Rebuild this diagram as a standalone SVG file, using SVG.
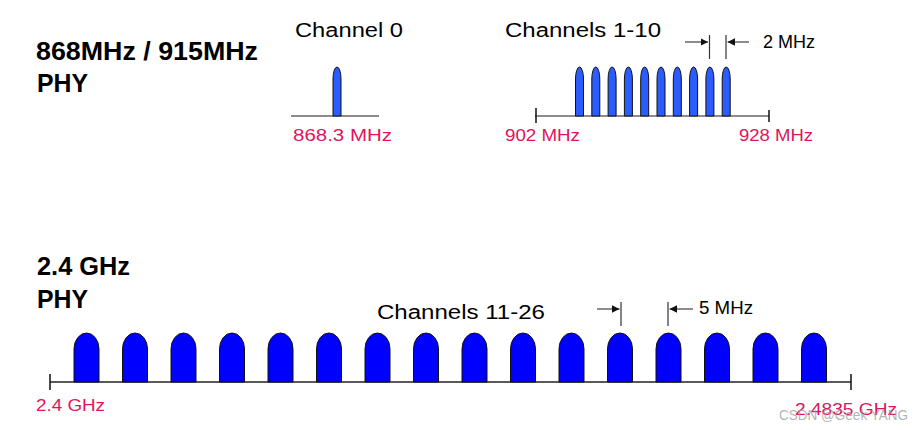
<svg xmlns="http://www.w3.org/2000/svg" width="923" height="430" viewBox="0 0 923 430">
<style>
.t{font-family:"Liberation Sans",Arial,sans-serif;fill:#000}
.h{font-weight:bold;font-size:25px}
.c{font-size:20px}
.s{font-size:18px}
.p{font-family:"Liberation Sans",Arial,sans-serif;font-size:17px;fill:#e0145c}
.ax{stroke:#222;stroke-width:1.5;fill:none}
.axg{stroke:#666;stroke-width:1.5;fill:none}
.tk{stroke:#111;stroke-width:1.5}
.ar{stroke:#666;stroke-width:1.5;fill:none;marker-end:url(#ah)}
.mk{stroke:#333;stroke-width:1.2}
.np{fill:#2b5cff;stroke:#111;stroke-width:1}
.wp{fill:#0000ff;stroke:#111;stroke-width:1}
</style>
<defs>
<marker id="ah" viewBox="0 0 10 10" refX="10" refY="5" markerWidth="5" markerHeight="5" orient="auto" markerUnits="strokeWidth">
<path d="M0,0 L10,5 L0,10 z" fill="#111"/>
</marker>
<path id="np" d="M-4,49 V12 A4,12 0 0 1 4,12 V49 Z"/>
<path id="wp" d="M-12.5,49 V16 A12.5,16 0 0 1 12.5,16 V49 Z"/>
</defs>

<g id="title-subghz">
<text class="t h" x="36" y="60" textLength="222" lengthAdjust="spacingAndGlyphs">868MHz / 915MHz</text>
<text class="t h" x="37" y="92" textLength="51" lengthAdjust="spacingAndGlyphs">PHY</text>
</g>

<g id="channel0">
<text class="t c" x="295" y="37" textLength="108" lengthAdjust="spacingAndGlyphs">Channel 0</text>
<line class="axg" x1="291" y1="116" x2="379" y2="116"/>
<use href="#np" class="np" x="337" y="67"/>
<text class="p" x="293" y="141" textLength="99" lengthAdjust="spacingAndGlyphs">868.3 MHz</text>
</g>

<g id="channels1-10">
<text class="t c" x="505" y="37" textLength="156" lengthAdjust="spacingAndGlyphs">Channels 1-10</text>
<line class="axg" x1="535" y1="116" x2="769" y2="116"/>
<line class="tk" x1="536" y1="108" x2="536" y2="123"/>
<line class="tk" x1="769" y1="110" x2="769" y2="122"/>
<use href="#np" class="np" x="579.5" y="67"/>
<use href="#np" class="np" x="595.8" y="67"/>
<use href="#np" class="np" x="612.1" y="67"/>
<use href="#np" class="np" x="628.4" y="67"/>
<use href="#np" class="np" x="644.7" y="67"/>
<use href="#np" class="np" x="661" y="67"/>
<use href="#np" class="np" x="677.3" y="67"/>
<use href="#np" class="np" x="693.6" y="67"/>
<use href="#np" class="np" x="709.9" y="67"/>
<use href="#np" class="np" x="726.2" y="67"/>
<text class="p" x="505" y="141" textLength="75" lengthAdjust="spacingAndGlyphs">902 MHz</text>
<text class="p" x="739" y="141" textLength="74" lengthAdjust="spacingAndGlyphs">928 MHz</text>
<text class="t s" x="763" y="48" textLength="52" lengthAdjust="spacingAndGlyphs">2 MHz</text>
</g>

<g id="title-24ghz">
<text class="t h" x="37" y="275" textLength="93" lengthAdjust="spacingAndGlyphs">2.4 GHz</text>
<text class="t h" x="37" y="308" textLength="51" lengthAdjust="spacingAndGlyphs">PHY</text>
</g>

<g id="channels11-26">
<text class="t c" x="377" y="319" textLength="168" lengthAdjust="spacingAndGlyphs">Channels 11-26</text>
<line class="ax" x1="50" y1="382" x2="851" y2="382"/>
<line class="tk" x1="50" y1="374" x2="50" y2="390"/>
<line class="tk" x1="851" y1="374" x2="851" y2="390"/>
<use href="#wp" class="wp" x="86.5" y="333"/>
<use href="#wp" class="wp" x="135" y="333"/>
<use href="#wp" class="wp" x="183.5" y="333"/>
<use href="#wp" class="wp" x="232" y="333"/>
<use href="#wp" class="wp" x="280.5" y="333"/>
<use href="#wp" class="wp" x="329" y="333"/>
<use href="#wp" class="wp" x="377.5" y="333"/>
<use href="#wp" class="wp" x="426" y="333"/>
<use href="#wp" class="wp" x="474.5" y="333"/>
<use href="#wp" class="wp" x="523" y="333"/>
<use href="#wp" class="wp" x="571.5" y="333"/>
<use href="#wp" class="wp" x="620" y="333"/>
<use href="#wp" class="wp" x="668.5" y="333"/>
<use href="#wp" class="wp" x="717" y="333"/>
<use href="#wp" class="wp" x="765.5" y="333"/>
<use href="#wp" class="wp" x="814" y="333"/>
<text class="p" x="36" y="411" textLength="69" lengthAdjust="spacingAndGlyphs">2.4 GHz</text>
<text class="p" x="795" y="415" textLength="102" lengthAdjust="spacingAndGlyphs">2.4835 GHz</text>
<text class="t s" x="699" y="314" textLength="54" lengthAdjust="spacingAndGlyphs">5 MHz</text>
</g>

<g id="connectors">
<line class="mk" x1="709.5" y1="35" x2="709.5" y2="59"/>
<line class="mk" x1="726" y1="35" x2="726" y2="59"/>
<line class="ar" x1="685" y1="42" x2="708" y2="42"/>
<line class="ar" x1="749" y1="42" x2="727.5" y2="42"/>
<line class="mk" x1="621" y1="302" x2="621" y2="326"/>
<line class="mk" x1="668" y1="302" x2="668" y2="326"/>
<line class="ar" x1="597" y1="309" x2="619.5" y2="309"/>
<line class="ar" x1="693" y1="309" x2="669.5" y2="309"/>
</g>

<text x="779" y="420" font-family="Liberation Sans,Arial,sans-serif" font-size="15" fill="#999" fill-opacity="0.75" textLength="129" lengthAdjust="spacingAndGlyphs">CSDN @Geek YANG</text>
</svg>
